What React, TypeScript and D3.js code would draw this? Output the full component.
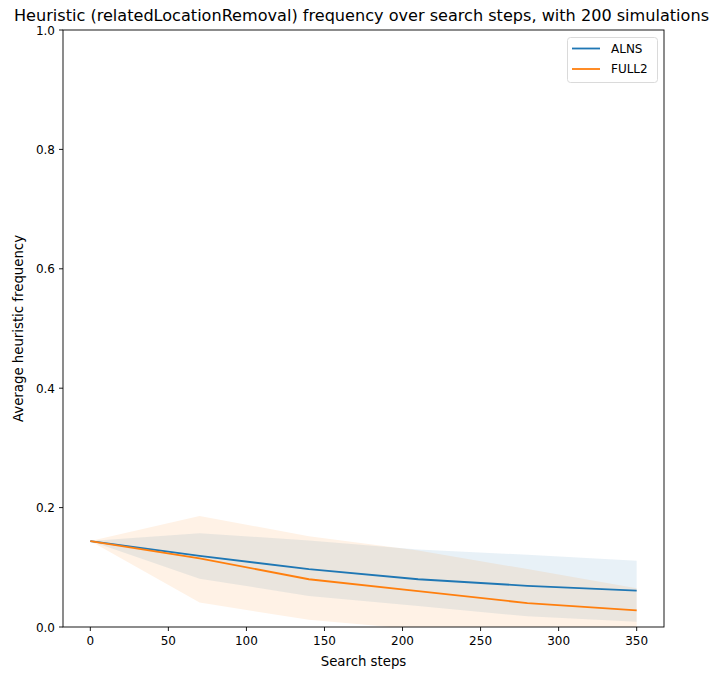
import React from "react";
import * as d3 from "d3";

// Search step checkpoints
const steps = [0, 70, 140, 210, 280, 350];

// ALNS: mean frequency with lower/upper band
const alnsMean = [0.144, 0.119, 0.097, 0.080, 0.069, 0.061];
const alnsLow = [0.144, 0.081, 0.052, 0.035, 0.018, 0.009];
const alnsHigh = [0.144, 0.157, 0.145, 0.130, 0.121, 0.111];

// FULL2: mean frequency with lower/upper band
const fullMean = [0.144, 0.115, 0.080, 0.060, 0.040, 0.028];
const fullLow = [0.144, 0.041, 0.012, -0.004, -0.012, -0.02];
const fullHigh = [0.144, 0.186, 0.152, 0.128, 0.097, 0.065];

const xTicks = [0, 50, 100, 150, 200, 250, 300, 350];
const yTicks = [0, 0.2, 0.4, 0.6, 0.8, 1.0];

const seriesNames = ["ALNS", "FULL2"];
const colors = ["#1f77b4", "#ff7f0e"];

const W = 715;
const H = 673;
const left = 63;
const right = 664;
const top = 30;
const bottom = 627;
const font = "DejaVu Sans, sans-serif";

export default function App() {
  const x = d3.scaleLinear().domain([-17.5, 367.5]).range([left, right]);
  const y = d3.scaleLinear().domain([0, 1]).range([bottom, top]);

  const line = d3
    .line<number>()
    .x((_, i) => x(steps[i]))
    .y((v) => y(v));

  const band = (lo: number[], hi: number[]) =>
    d3
      .area<number>()
      .x((_, i) => x(steps[i]))
      .y0((_, i) => y(lo[i]))
      .y1((_, i) => y(hi[i]))(steps) || "";

  const series = [
    { mean: alnsMean, lo: alnsLow, hi: alnsHigh },
    { mean: fullMean, lo: fullLow, hi: fullHigh },
  ];

  return (
    <svg
      width={W}
      height={H}
      style={{ position: "absolute", left: 0, top: 0, background: "#fff" }}
      fontFamily={font}
    >
      <defs>
        <clipPath id="plot-clip">
          <rect x={left} y={top} width={right - left} height={bottom - top} />
        </clipPath>
      </defs>

      <text x={361.5} y={20.5} textAnchor="middle" fontSize={16.1} fill="#000">
        Heuristic (relatedLocationRemoval) frequency over search steps, with 200 simulations
      </text>

      <g clipPath="url(#plot-clip)">
        {series.map((s, k) => (
          <path key={"band" + k} d={band(s.lo, s.hi)} fill={colors[k]} fillOpacity={0.1} stroke="none" />
        ))}
        {series.map((s, k) => (
          <path key={"line" + k} d={line(s.mean) || ""} fill="none" stroke={colors[k]} strokeWidth={1.8} />
        ))}
      </g>

      {/* axes frame */}
      <rect x={left} y={top} width={right - left} height={bottom - top} fill="none" stroke="#000" strokeWidth={0.9} />

      {xTicks.map((t) => (
        <g key={"xt" + t}>
          <line x1={x(t)} x2={x(t)} y1={bottom} y2={bottom + 4} stroke="#000" strokeWidth={0.9} />
          <text x={x(t)} y={bottom + 18} textAnchor="middle" fontSize={12} fill="#000">
            {t}
          </text>
        </g>
      ))}
      {yTicks.map((t) => (
        <g key={"yt" + t}>
          <line x1={left - 4} x2={left} y1={y(t)} y2={y(t)} stroke="#000" strokeWidth={0.9} />
          <text x={left - 8} y={y(t) + 4.6} textAnchor="end" fontSize={12} fill="#000">
            {t.toFixed(1)}
          </text>
        </g>
      ))}

      <text x={(left + right) / 2} y={666} textAnchor="middle" fontSize={13.3} fill="#000">
        Search steps
      </text>
      <text
        transform={`translate(23, ${(top + bottom) / 2}) rotate(-90)`}
        textAnchor="middle"
        fontSize={13.3}
        fill="#000"
      >
        Average heuristic frequency
      </text>

      {/* legend */}
      <rect x={567.5} y={37.5} width={90} height={45} rx={3} fill="#fff" fillOpacity={0.8} stroke="#d6d6d6" strokeWidth={0.9} />
      {seriesNames.map((name, k) => (
        <g key={"lg" + name}>
          <line x1={572} x2={600} y1={48.5 + k * 20.5} y2={48.5 + k * 20.5} stroke={colors[k]} strokeWidth={1.8} />
          <text x={611} y={48.5 + k * 20.5 + 4.3} fontSize={12} fill="#000">
            {name}
          </text>
        </g>
      ))}
    </svg>
  );
}
